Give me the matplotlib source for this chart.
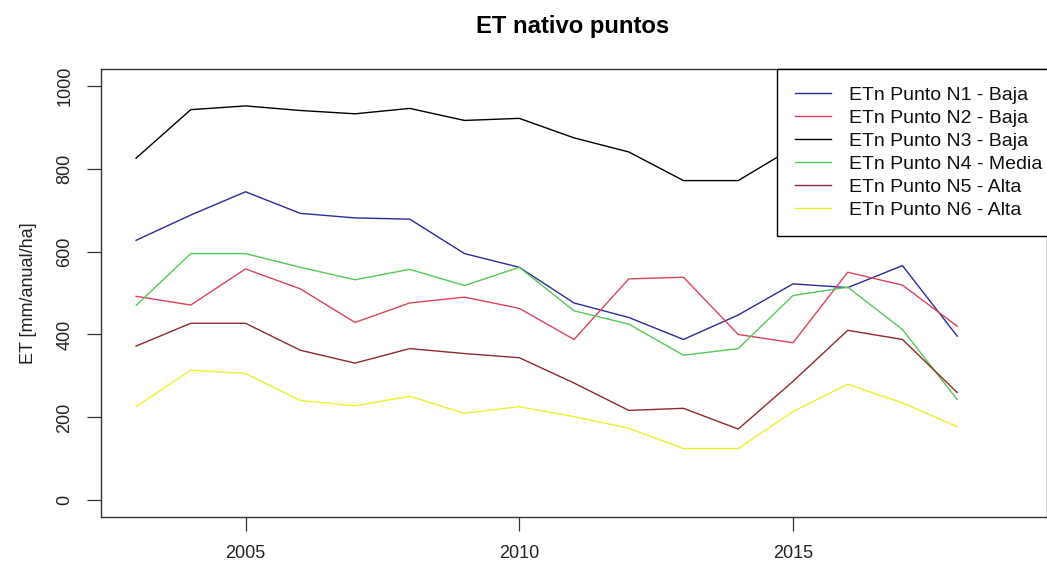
import matplotlib
matplotlib.use("Agg")
import matplotlib.pyplot as plt

plt.rcParams['font.family'] = ['Liberation Sans', 'DejaVu Sans']

years = list(range(2003, 2019))

n1_baja = [627, 688, 744, 692, 681, 678, 595, 562, 476, 441, 388, 447, 522, 513, 566, 396]
n2_baja = [492, 471, 558, 510, 429, 476, 490, 463, 388, 534, 538, 400, 380, 550, 519, 420]
n3_baja = [825, 942, 951, 940, 932, 945, 916, 921, 874, 840, 771, 771, 850, 880, 870, 840]
n4_media = [470, 595, 595, 562, 532, 557, 518, 562, 457, 425, 350, 366, 494, 514, 412, 243]
n5_alta = [372, 427, 427, 362, 331, 366, 354, 344, 283, 217, 222, 172, 287, 410, 388, 260]
n6_alta = [226, 314, 306, 241, 228, 251, 210, 226, 202, 174, 125, 125, 214, 280, 235, 178]

labels = [
    "ETn Punto N1 - Baja",
    "ETn Punto N2 - Baja",
    "ETn Punto N3 - Baja",
    "ETn Punto N4 - Media",
    "ETn Punto N5 - Alta",
    "ETn Punto N6 - Alta",
]
colors = ["#2B2B99", "#D9445A", "#000000", "#55C855", "#8E2A2A", "#EEEE30"]
series = [n1_baja, n2_baja, n3_baja, n4_media, n5_alta, n6_alta]

W, H = 1047, 563
fig = plt.figure(figsize=(W / 100, H / 100), dpi=100)
ax = fig.add_axes([101 / W, (H - 517) / H, (1047 - 101) / W, (517 - 69) / H])

for vals, col, lab in zip(series, colors, labels):
    ax.plot(years, vals, color=col, linewidth=1.0, label=lab)

ax.set_xlim(2002.36, 2019.64)
ax.set_ylim(-40, 1040)
ax.set_xticks([2005, 2010, 2015])
ax.set_yticks([0, 200, 400, 600, 800, 1000])
ax.tick_params(axis='both', direction='out', length=10, width=0.9,
               color='#333333', labelsize=13, labelcolor='#222222')
ax.tick_params(axis='x', pad=10)
ax.tick_params(axis='y', pad=10)
for lbl in ax.get_yticklabels():
    lbl.set_rotation(90)
    lbl.set_va('center')
for sp in ax.spines.values():
    sp.set_color('#333333')
    sp.set_linewidth(1.0)

ax.set_ylabel("ET [mm/anual/ha]", fontsize=13, color='#222222', labelpad=14)
fig.text(573 / W, 1 - 26 / H, "ET nativo puntos", ha='center', va='center',
         fontsize=17.2, fontweight='bold')

leg = ax.legend(loc='upper right', bbox_to_anchor=(1.013, 1.0), borderaxespad=0,
                fontsize=14, frameon=True, fancybox=False, handlelength=1.86,
                handletextpad=0.93, labelspacing=0.28, borderpad=0.88)
frame = leg.get_frame()
frame.set_edgecolor('black')
frame.set_linewidth(1.0)
frame.set_facecolor('white')
frame.set_alpha(1.0)
for t in leg.get_texts():
    t.set_color('#111111')

fig.savefig("out.png", dpi=100)
